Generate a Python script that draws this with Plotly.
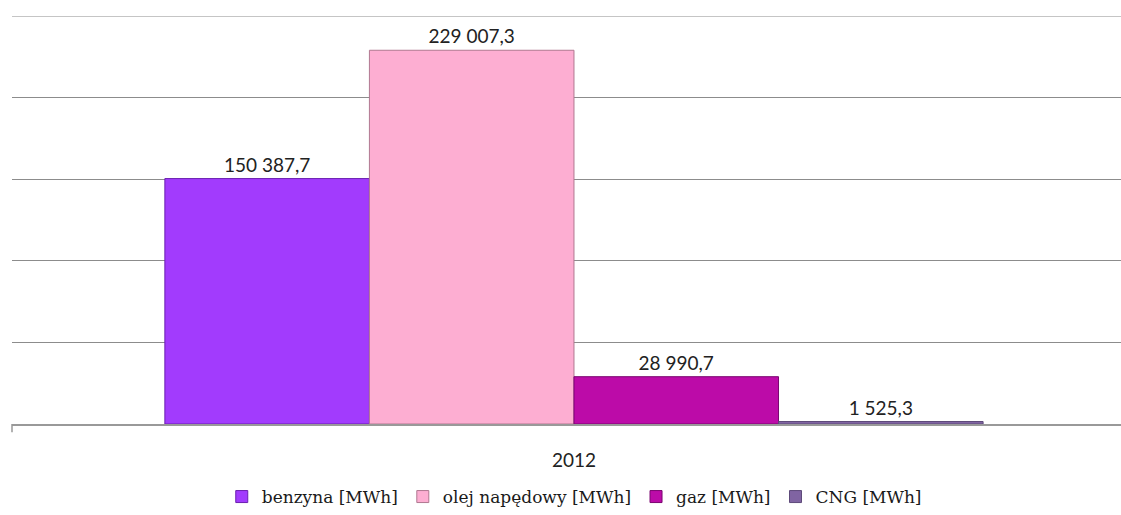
import plotly.graph_objects as go

categories = ["2012"]
series_names = ["benzyna [MWh]", "olej napędowy [MWh]", "gaz [MWh]", "CNG [MWh]"]
series_values = [[150387.7], [229007.3], [28990.7], [1525.3]]
colors = ["#A23BFD", "#FDAED2", "#BC0BA8", "#8064A2"]
edge_colors = ["#6A1FB0", "#B07890", "#7A0570", "#5E4A7A"]

fig = go.Figure()
for name, vals, c, ec in zip(series_names, series_values, colors, edge_colors):
    fig.add_trace(go.Bar(
        x=categories, y=vals, name=name,
        marker=dict(color=c, line=dict(color=ec, width=1)),
        texttemplate="%{y:,.1f}", textposition="outside",
        textfont=dict(family="Lato", size=19, color="#222222"),
        cliponaxis=False,
    ))

fig.update_layout(
    width=1121, height=515,
    margin=dict(l=12, r=0, t=16, b=85),
    paper_bgcolor="white", plot_bgcolor="white",
    barmode="group", bargap=0.272, bargroupgap=0,
    separators=", ",
    showlegend=True,
    legend=dict(orientation="h", x=0.507, xanchor="center", y=-0.18, yanchor="middle",
                font=dict(family="DejaVu Serif", size=17, color="#1a1a1a"),
                itemwidth=30, traceorder="normal"),
    xaxis=dict(range=[-0.5, 0.4867], showgrid=False, showline=True, linecolor="#999999",
               linewidth=1.5, ticks="outside", ticklen=18, tickcolor="rgba(0,0,0,0)",
               tickfont=dict(family="Lato", size=19, color="#222222"), zeroline=False),
    yaxis=dict(range=[0, 250000], dtick=50000, showgrid=True, gridcolor="#8c8c8c", gridwidth=1,
               showticklabels=False, zeroline=False, showline=False),
    shapes=[
        dict(type="line", xref="paper", yref="paper", x0=0, x1=0, y0=0, y1=-0.02,
             line=dict(color="#999999", width=1.5)),
        dict(type="line", xref="paper", yref="y", x0=0, x1=1, y0=250000, y1=250000,
             line=dict(color="#8c8c8c", width=1), layer="below"),
    ],
)

fig.write_html("out.html", config={"displayModeBar": False},
               post_script="document.body.style.margin='0';document.body.style.overflow='hidden';")
